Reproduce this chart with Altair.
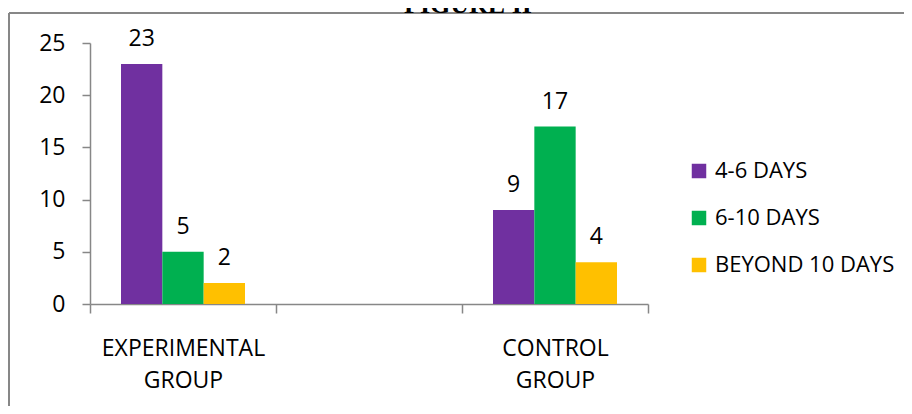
import altair as alt
import pandas as pd

groups = ["EXPERIMENTAL GROUP", "", "CONTROL GROUP"]
series = ["4-6 DAYS", "6-10 DAYS", "BEYOND 10 DAYS"]
experimental = [23, 5, 2]
control = [9, 17, 4]
colors = ["#7030A0", "#00B050", "#FFC000"]
y_ticks = [0, 5, 10, 15, 20, 25]
title_text = "FIGURE II"

rows = []
for s, v in zip(series, experimental):
    rows.append({"group": groups[0], "series": s, "value": v})
for s, v in zip(series, control):
    rows.append({"group": groups[2], "series": s, "value": v})
df = pd.DataFrame(rows)

FONT = "Open Sans"
FS = 23
GRAY = "#878787"
W, H = 558, 261
PAD_R, PAD_B = 256, 102

x = alt.X(
    "group:N",
    scale=alt.Scale(domain=groups, paddingInner=0, paddingOuter=0),
    axis=alt.Axis(
        title=None, labelAngle=0, tickBand="extent",
        labelExpr="split(datum.label, ' ')",
        labelFont=FONT, labelFontSize=FS, labelColor="#000",
        labelPadding=24, labelLineHeight=32,
        tickSize=9, tickColor=GRAY, tickWidth=1.5,
        domainColor=GRAY, domainWidth=1.5,
    ),
)
xoff = alt.XOffset(
    "series:N",
    scale=alt.Scale(domain=series, paddingInner=0, paddingOuter=0.75),
)
y = alt.Y(
    "value:Q",
    scale=alt.Scale(domain=[0, 25], nice=False),
    axis=alt.Axis(
        title=None, values=y_ticks, grid=False,
        labelFont=FONT, labelFontSize=FS, labelColor="#000",
        labelPadding=17, tickSize=8, tickColor=GRAY, tickWidth=1.5,
        domainColor=GRAY, domainWidth=1.5,
    ),
)
color = alt.Color(
    "series:N",
    scale=alt.Scale(domain=series, range=colors),
    legend=alt.Legend(
        title=None, orient="none", legendX=598, legendY=117,
        symbolType="square", symbolSize=210, symbolStrokeWidth=0,
        labelFont=FONT, labelFontSize=22, labelColor="#000",
        labelLimit=400, rowPadding=25, labelOffset=5,
    ),
)

bars = alt.Chart(df).mark_bar().encode(x=x, xOffset=xoff, y=y, color=color)
labels = alt.Chart(df).mark_text(
    baseline="alphabetic", dy=-18, font=FONT, fontSize=FS, color="#000"
).encode(x=x, xOffset=xoff, y=y, text="value:Q")

one = alt.Data(values=[{}])
border_top = alt.Chart(one).mark_rule(color=GRAY, strokeWidth=2).encode(
    x=alt.value(-81), x2=alt.value(W + PAD_R), y=alt.value(-30),
)
border_left = alt.Chart(one).mark_rule(color=GRAY, strokeWidth=2).encode(
    x=alt.value(-81), y=alt.value(-30), y2=alt.value(H + PAD_B),
)
title = alt.Chart(one).mark_text(
    text=title_text, font="Liberation Serif", fontSize=26, fontWeight="bold",
    baseline="alphabetic", align="center", color="#000",
).encode(x=alt.value(378), y=alt.value(-30))

chart = alt.layer(border_top, border_left, title, bars, labels).properties(
    width=W, height=H,
    autosize=alt.AutoSizeParams(type="none"),
    padding={"left": 82, "top": 35, "right": PAD_R, "bottom": PAD_B},
).configure_view(stroke=None)

chart.save("out.html", embed_options={"renderer": "svg", "actions": False})
